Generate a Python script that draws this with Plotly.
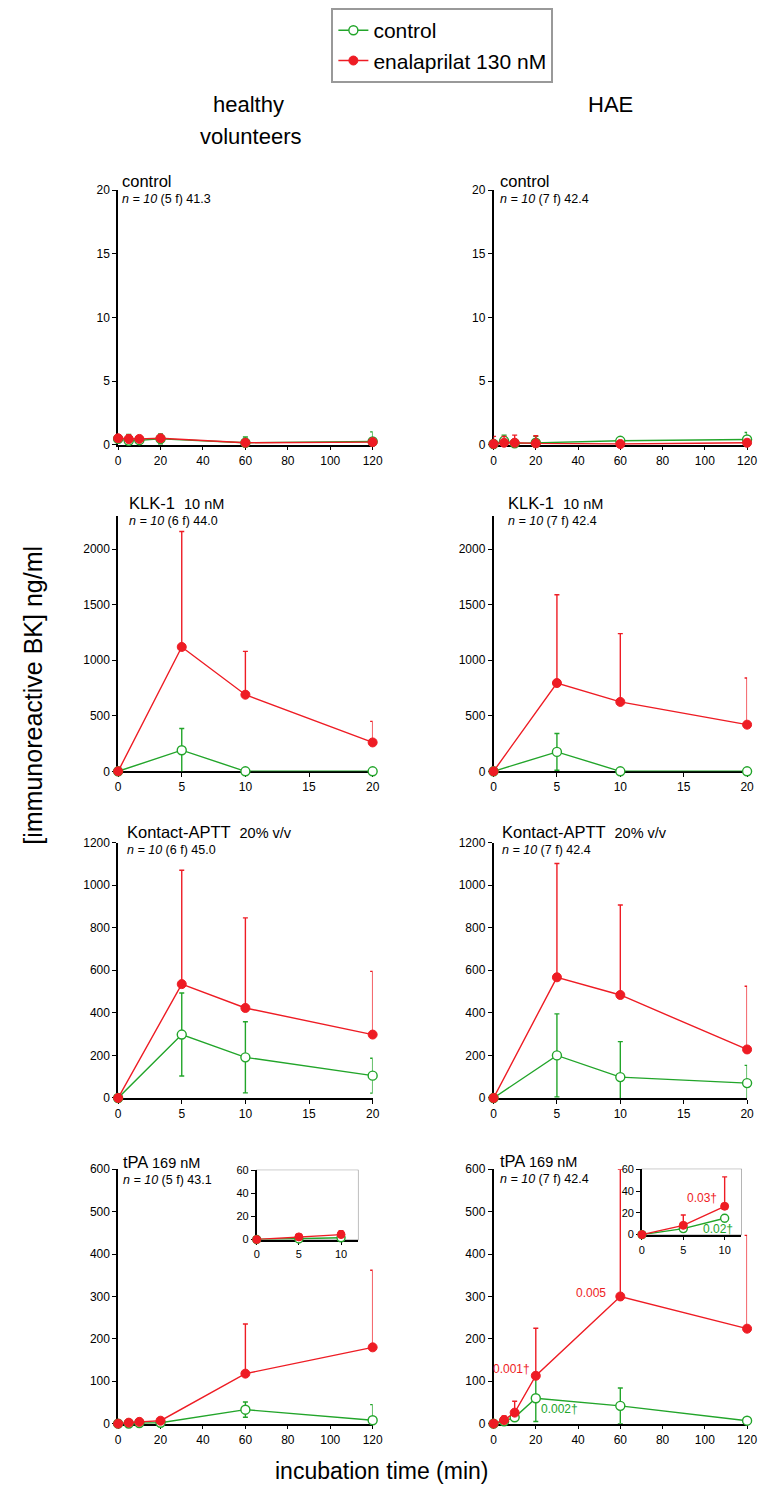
import plotly.graph_objects as go

# page body keeps its default 8px margin; size the figure so page == 770x1504
PAGE_W, PAGE_H, BODY = 770, 1504, 8
W, H = PAGE_W - 2 * BODY, PAGE_H - 2 * BODY
FONT = "Liberation Sans, Arial, sans-serif"
GREEN = "#22a52a"
RED = "#ee1c24"

# ---------------- data ----------------
time_long = [0, 5, 10, 20, 60, 120]
time_short = [0, 5, 10, 20]

# control (no stimulus)
hv_ctrl_green = [0.45, 0.30, 0.35, 0.45, 0.15, 0.25]
hv_ctrl_green_err = [0.10, 0.50, 0.15, 0.40, 0.45, 0.75]
hv_ctrl_red = [0.50, 0.45, 0.45, 0.50, 0.15, 0.20]
hv_ctrl_red_err = [0.10, 0.30, 0.20, 0.15, 0.10, 0.15]
hae_ctrl_green = [0.05, 0.30, 0.10, 0.15, 0.30, 0.40]
hae_ctrl_green_err = [0.30, 0.45, 0.30, 0.50, 0.10, 0.55]
hae_ctrl_red = [0.05, 0.15, 0.15, 0.10, 0.05, 0.15]
hae_ctrl_red_err = [0.60, 0.50, 0.60, 0.60, 0.10, 0.20]

# KLK-1 10 nM
hv_klk_green = [0, 190, 0, 0]
hv_klk_green_err = [0, 195, 0, 0]
hv_klk_red = [0, 1120, 690, 260]
hv_klk_red_err = [0, 1040, 390, 190]
hae_klk_green = [0, 175, 0, 0]
hae_klk_green_err = [0, 165, 0, 0]
hae_klk_red = [0, 795, 625, 420]
hae_klk_red_err = [0, 795, 615, 420]

# Kontact-APTT 20% v/v
hv_aptt_green = [0, 298, 191, 105]
hv_aptt_green_err = [0, 195, 167, 82]
hv_aptt_red = [0, 535, 423, 298]
hv_aptt_red_err = [0, 535, 423, 297]
hae_aptt_green = [0, 200, 98, 70]
hae_aptt_green_err = [0, 195, 167, 83]
hae_aptt_red = [0, 567, 484, 228]
hae_aptt_red_err = [0, 535, 423, 297]

# tPA 169 nM
hv_tpa_green = [0, 0.5, 1.5, 2, 33, 8]
hv_tpa_green_err = [0, 0.5, 1.5, 2, 18, 37]
hv_tpa_red = [0, 2.3, 4.3, 7, 118, 180]
hv_tpa_red_err = [0, 0.5, 3.4, 3, 117, 182]
hae_tpa_green = [0, 5.5, 15, 60, 42, 7]
hae_tpa_green_err = [0, 2, 3, 55, 42, 3]
hae_tpa_red = [0, 8.5, 26, 113, 300, 224]
hae_tpa_red_err = [0, 9.5, 27, 112, 300, 220]

inset_n = 3  # first three time points shown in the insets

# ---------------- layout helpers ----------------
def xd(px):
    return (px - BODY) / W

def yd(py):
    return 1 - (py - BODY) / H

COLS = {"L": (117, 376), "R": (499, 757)}
ROWS = {1: (184, 441), 2: (513, 771), 3: (843, 1101), 4: (1173, 1430)}

fig = go.Figure()
layout = {}

def add_axes(idx, xpx, ypx, xrange, yrange, xticks, yticks, tick_size=12):
    sfx = "" if idx == 1 else str(idx)
    common = dict(showline=True, linecolor="black", linewidth=1.5, ticks="outside",
                  ticklen=4, tickwidth=1.2, tickcolor="black", showgrid=False,
                  zeroline=False, layer="below traces",
                  tickfont=dict(family=FONT, size=tick_size, color="black"))
    layout["xaxis" + sfx] = dict(domain=[xd(xpx[0]), xd(xpx[1])], range=xrange,
                                 tickvals=xticks, anchor="y" + sfx, **common)
    layout["yaxis" + sfx] = dict(domain=[yd(ypx[1]), yd(ypx[0])], range=yrange,
                                 tickvals=yticks, anchor="x" + sfx, **common)

def add_pair(idx, x, g, gerr, r, rerr, red_sym=False, legend=False, msize=9, lw=1.4):
    sfx = "" if idx == 1 else str(idx)
    fig.add_trace(go.Scatter(
        x=x, y=g, mode="lines+markers", name="control", showlegend=legend,
        xaxis="x" + sfx, yaxis="y" + sfx, cliponaxis=False,
        line=dict(color=GREEN, width=lw),
        marker=dict(symbol="circle", size=msize, color="white", line=dict(color=GREEN, width=1.4)),
        error_y=dict(type="data", array=gerr, symmetric=True, color=GREEN, thickness=1.4, width=2.5)))
    ey = dict(type="data", array=rerr, color=RED, thickness=1.4, width=2.5)
    if red_sym:
        ey["symmetric"] = True
    else:
        ey["symmetric"] = False
        ey["arrayminus"] = [0] * len(rerr)
    fig.add_trace(go.Scatter(
        x=x, y=r, mode="lines+markers", name="enalaprilat 130 nM", showlegend=legend,
        xaxis="x" + sfx, yaxis="y" + sfx, cliponaxis=False,
        line=dict(color=RED, width=lw),
        marker=dict(symbol="circle", size=msize, color=RED, line=dict(color=RED, width=1)),
        error_y=ey))

long_ticks = [0, 20, 40, 60, 80, 100, 120]
short_ticks = [0, 5, 10, 15, 20]

# Row 1 control
add_axes(1, COLS["L"], ROWS[1], [0, 120], [0, 20], long_ticks, [0, 5, 10, 15, 20])
add_pair(1, time_long, hv_ctrl_green, hv_ctrl_green_err, hv_ctrl_red, hv_ctrl_red_err, red_sym=True, legend=True)
add_axes(2, COLS["R"], ROWS[1], [0, 120], [0, 20], long_ticks, [0, 5, 10, 15, 20])
add_pair(2, time_long, hae_ctrl_green, hae_ctrl_green_err, hae_ctrl_red, hae_ctrl_red_err, red_sym=True)

# Row 2 KLK-1
add_axes(3, COLS["L"], ROWS[2], [0, 20], [0, 2300], short_ticks, [0, 500, 1000, 1500, 2000])
add_pair(3, time_short, hv_klk_green, hv_klk_green_err, hv_klk_red, hv_klk_red_err)
add_axes(4, COLS["R"], ROWS[2], [0, 20], [0, 2300], short_ticks, [0, 500, 1000, 1500, 2000])
add_pair(4, time_short, hae_klk_green, hae_klk_green_err, hae_klk_red, hae_klk_red_err)

# Row 3 Kontact-APTT
add_axes(5, COLS["L"], ROWS[3], [0, 20], [0, 1200], short_ticks, [0, 200, 400, 600, 800, 1000, 1200])
add_pair(5, time_short, hv_aptt_green, hv_aptt_green_err, hv_aptt_red, hv_aptt_red_err)
add_axes(6, COLS["R"], ROWS[3], [0, 20], [0, 1200], short_ticks, [0, 200, 400, 600, 800, 1000, 1200])
add_pair(6, time_short, hae_aptt_green, hae_aptt_green_err, hae_aptt_red, hae_aptt_red_err)

# Row 4 tPA
add_axes(7, COLS["L"], ROWS[4], [0, 120], [0, 600], long_ticks, [0, 100, 200, 300, 400, 500, 600])
add_pair(7, time_long, hv_tpa_green, hv_tpa_green_err, hv_tpa_red, hv_tpa_red_err)
add_axes(8, COLS["R"], ROWS[4], [0, 120], [0, 600], long_ticks, [0, 100, 200, 300, 400, 500, 600])
add_pair(8, time_long, hae_tpa_green, hae_tpa_green_err, hae_tpa_red, hae_tpa_red_err)

# Insets
INS_L = ((258, 361), (1174, 1244))
INS_R = ((650, 751), (1173, 1239))
add_axes(9, INS_L[0], INS_L[1], [0, 12], [0, 60], [0, 5, 10], [0, 20, 40, 60], tick_size=11)
add_pair(9, time_long[:inset_n], hv_tpa_green[:inset_n], hv_tpa_green_err[:inset_n],
         hv_tpa_red[:inset_n], hv_tpa_red_err[:inset_n], msize=8)
add_axes(10, INS_R[0], INS_R[1], [0, 12], [0, 60], [0, 5, 10], [0, 20, 40, 60], tick_size=11)
add_pair(10, time_long[:inset_n], hae_tpa_green[:inset_n], hae_tpa_green_err[:inset_n],
         hae_tpa_red[:inset_n], hae_tpa_red_err[:inset_n], msize=8)

shapes = []
for (xs, ys) in (INS_L, INS_R):
    shapes.append(dict(type="rect", xref="paper", yref="paper", layer="below",
                       x0=xd(xs[0]), x1=xd(xs[1]), y0=yd(ys[1]), y1=yd(ys[0]),
                       line=dict(color="#8c8c8c", width=1.2), fillcolor="white"))

# ---------------- text ----------------
ann = []

def txt(x, y, s, size, color="black", xanchor="left"):
    ann.append(dict(xref="paper", yref="paper", x=xd(x), y=yd(y), text=s, showarrow=False,
                    xanchor=xanchor, yanchor="middle",
                    font=dict(family=FONT, size=size, color=color)))

txt(250, 97, "healthy", 22, xanchor="center")
txt(252, 130, "volunteers", 22, xanchor="center")
txt(618, 97, "HAE", 22, xanchor="center")

def small(s):
    return "<span style='font-size:14.5px'>" + s + "</span>"

T, N = 16.5, 12.5
# row 1
txt(119, 175, "control", T)
txt(119, 193, "<i>n = 10</i> (5 f) 41.3", N)
txt(504, 175, "control", T)
txt(504, 193, "<i>n = 10</i> (7 f) 42.4", N)
# row 2
txt(126, 500, "KLK-1  " + small("10 nM"), T)
txt(126, 518, "<i>n = 10</i> (6 f) 44.0", N)
txt(512, 500, "KLK-1  " + small("10 nM"), T)
txt(512, 518, "<i>n = 10</i> (7 f) 42.4", N)
# row 3
txt(124, 832, "Kontact-APTT  " + small("20% v/v"), T)
txt(124, 850, "<i>n = 10</i> (6 f) 45.0", N)
txt(506, 832, "Kontact-APTT  " + small("20% v/v"), T)
txt(506, 850, "<i>n = 10</i> (7 f) 42.4", N)
# row 4
txt(120, 1166, "tPA " + small("169 nM"), T)
txt(120, 1184, "<i>n = 10</i> (5 f) 43.1", N)
txt(504, 1165, "tPA " + small("169 nM"), T)
txt(504, 1183, "<i>n = 10</i> (7 f) 42.4", N)

# p-value labels (data coordinates)
def ptxt(axis, x, y, s, color, xanchor):
    ann.append(dict(xref="x" + axis, yref="y" + axis, x=x, y=y, text=s, showarrow=False,
                    xanchor=xanchor, yanchor="middle",
                    font=dict(family=FONT, size=12, color=color)))

ptxt("8", 54, 309, "0.005", RED, "right")
ptxt("8", 18, 130, "0.001†", RED, "right")
ptxt("8", 21.5, 35, "0.002†", GREEN, "left")
ptxt("10", 9.3, 34, "0.03†", RED, "right")
ptxt("10", 11.2, 5.5, "0.02†", GREEN, "right")

# axis titles
ann.append(dict(xref="paper", yref="paper", x=xd(30), y=yd(694), text="[immunoreactive BK] ng/ml",
                showarrow=False, textangle=-90, xanchor="center", yanchor="middle",
                font=dict(family=FONT, size=25, color="black")))
txt(385, 1478, "incubation time (min)", 23, xanchor="center")

layout.update(dict(
    width=W, height=H, margin=dict(l=0, r=0, t=0, b=0),
    paper_bgcolor="white", plot_bgcolor="white",
    shapes=shapes, annotations=ann,
    legend=dict(x=xd(334), y=yd(0), xanchor="left", yanchor="top",
                bordercolor="#999999", borderwidth=2, bgcolor="white",
                font=dict(family=FONT, size=21, color="black"),
                itemwidth=30, tracegroupgap=0),
    showlegend=True,
    hovermode=False,
))
fig.update_layout(**layout)
fig.write_html("out.html", config={"displayModeBar": False})
